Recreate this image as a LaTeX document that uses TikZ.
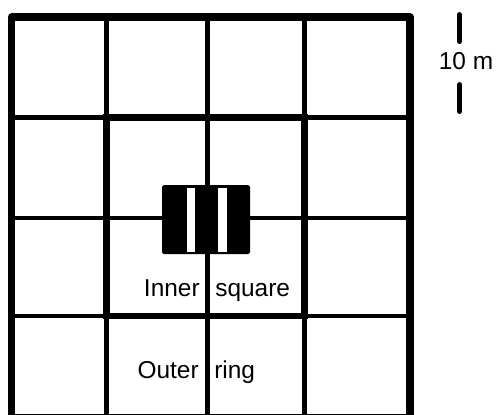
\documentclass[tikz,border=0pt]{standalone}
\usepackage{fontspec}
\setmainfont{Liberation Sans}
\usetikzlibrary{positioning}

\begin{document}
\begin{tikzpicture}[x=0.02cm, y=-0.02cm, font=\fontsize{13.9}{16}\selectfont,
    gridline/.style={line width=2.8pt},
    txt/.style={inner sep=0pt}]
    \useasboundingbox (0,0) rectangle (496,414);
    \foreach \x in {106.5, 304.5}
        \draw[gridline] (\x,17)--(\x,417);
    \foreach \y in {117.5, 316}
        \draw[gridline] (11.5,\y)--(410,\y);
    \draw[line width=2.5pt] (207.5,17)--(207.5,417);
    \draw[line width=2.5pt] (11.5,218)--(410,218);
    \draw[line width=3.7pt] (106.5,117.5) rectangle (304.5,316);
    \draw[line width=4pt, line join=round] (11.5,17) rectangle (410,417);
    \fill[rounded corners=1pt] (162,185) rectangle (250,254);
    \foreach \x/\w in {187/8, 218/9}
        \fill[white] (\x,188) rectangle ++(\w,64);
    \node[txt, anchor=base east] (inner) at (200,296) {Inner};
    \node[txt, anchor=base west] (square) at (215,296) {square};
    \node[txt, anchor=base east] (outer) at (199,378) {Outer};
    \node[txt, anchor=base west] (ring) at (214,378) {ring};
    \node[txt, anchor=base] (scale) at (466,69) {10 m};
    \coordinate (bar top) at (459.5,14.5);
    \coordinate (bar bottom) at (459.5,111.5);
    \draw[line width=2.8pt, line cap=round] (bar top)--++(0,27);
    \draw[line width=2.8pt, line cap=round] (bar bottom)--++(0,-27);
\end{tikzpicture}
\end{document}
